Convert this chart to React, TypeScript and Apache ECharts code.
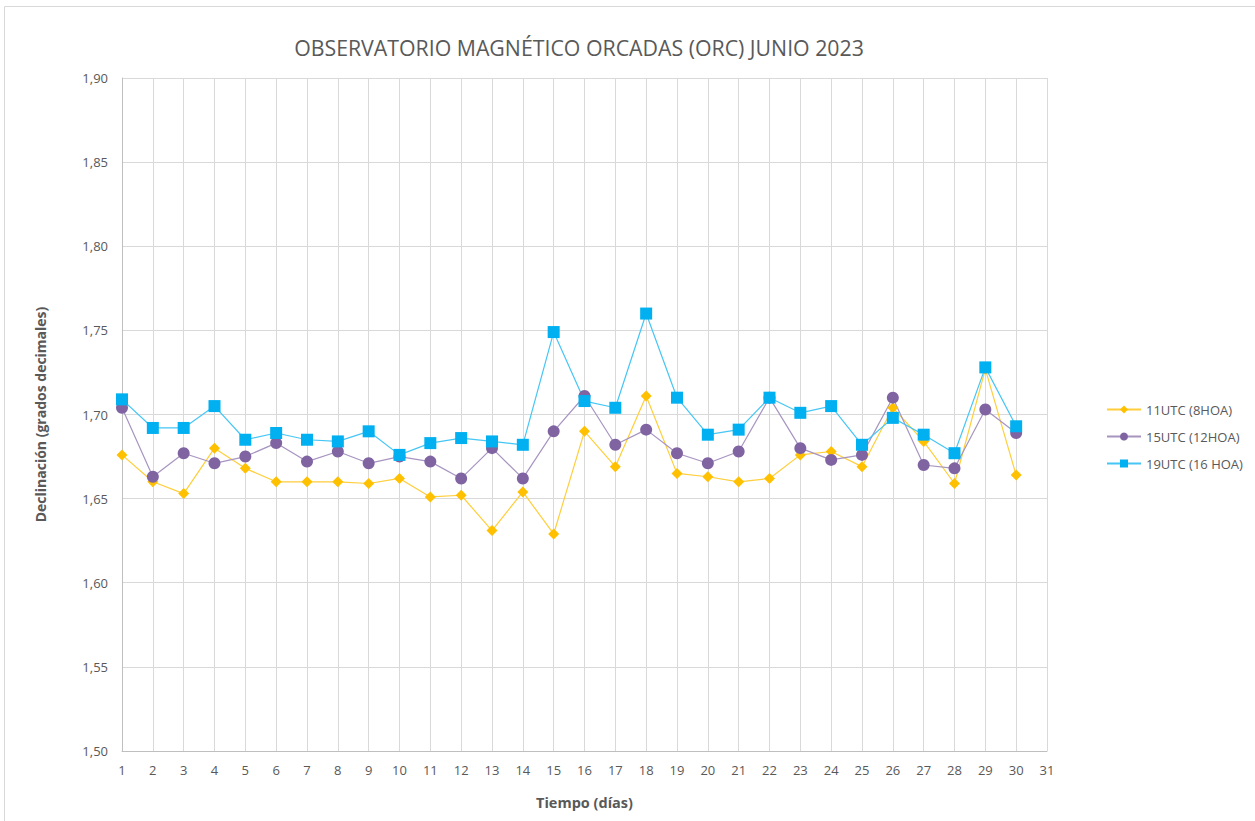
import React, { useEffect, useRef } from "react";
import * as echarts from "echarts";

const days = [1,2,3,4,5,6,7,8,9,10,11,12,13,14,15,16,17,18,19,20,21,22,23,24,25,26,27,28,29,30];
const utc11 = [1.676,1.660,1.653,1.680,1.668,1.660,1.660,1.660,1.659,1.662,1.651,1.652,1.631,1.654,1.629,1.690,1.669,1.711,1.665,1.663,1.660,1.662,1.676,1.678,1.669,1.704,1.684,1.659,1.727,1.664];
const utc15 = [1.704,1.663,1.677,1.671,1.675,1.683,1.672,1.678,1.671,1.675,1.672,1.662,1.680,1.662,1.690,1.711,1.682,1.691,1.677,1.671,1.678,1.710,1.680,1.673,1.676,1.710,1.670,1.668,1.703,1.689];
const utc19 = [1.709,1.692,1.692,1.705,1.685,1.689,1.685,1.684,1.690,1.676,1.683,1.686,1.684,1.682,1.749,1.708,1.704,1.760,1.710,1.688,1.691,1.710,1.701,1.705,1.682,1.698,1.688,1.677,1.728,1.693];
const seriesNames = ["11UTC (8HOA)", "15UTC (12HOA)", "19UTC (16 HOA)"];
const titleText = "OBSERVATORIO MAGNÉTICO ORCADAS (ORC) JUNIO 2023";

const FONT = "'Open Sans', sans-serif";

export default function App() {
  const ref = useRef<HTMLDivElement>(null);
  useEffect(() => {
    if (!ref.current) return;
    const chart = echarts.init(ref.current, undefined, { renderer: "svg" });
    const mk = (vals: number[]) => days.map((d, i) => [d, vals[i]]);
    chart.setOption({
      animation: false,
      backgroundColor: "#ffffff",
      title: {
        text: titleText,
        left: 574,
        textAlign: "center",
        top: 32,
        textStyle: { fontFamily: FONT, fontSize: 21.3, fontWeight: "normal", color: "#595959" },
      },
      graphic: [
        {
          type: "rect",
          shape: { x: 4.5, y: 6.5, width: 1400, height: 1000 },
          style: { fill: "none", stroke: "#d9d9d9", lineWidth: 1 },
          silent: true,
        },
      ],
      legend: {
        orient: "vertical",
        left: 1101,
        top: 398,
        itemGap: 14,
        itemWidth: 34,
        itemHeight: 10,
        textStyle: { fontFamily: FONT, fontSize: 13, color: "#595959" },
        data: seriesNames,
      },
      grid: { left: 122, right: 208, top: 78, bottom: 70, containLabel: false },
      xAxis: {
        type: "value",
        min: 1,
        max: 31,
        interval: 1,
        name: "Tiempo (días)",
        nameLocation: "middle",
        nameGap: 44,
        nameTextStyle: { fontFamily: FONT, fontSize: 14.5, fontWeight: "bold", color: "#595959" },
        axisLine: { show: true, lineStyle: { color: "#bfbfbf" } },
        axisTick: { show: false },
        axisLabel: { fontFamily: FONT, fontSize: 13, color: "#595959", margin: 12 },
        splitLine: { show: true, lineStyle: { color: "#d9d9d9" } },
      },
      yAxis: {
        type: "value",
        min: 1.5,
        max: 1.9,
        interval: 0.05,
        name: "Declinación (grados decimales)",
        nameLocation: "middle",
        nameGap: 75,
        nameTextStyle: { fontFamily: FONT, fontSize: 14, fontWeight: "bold", color: "#595959" },
        axisLine: { show: true, lineStyle: { color: "#bfbfbf" } },
        axisTick: { show: false },
        axisLabel: {
          fontFamily: FONT,
          fontSize: 13,
          color: "#595959",
          margin: 14,
          formatter: (v: number) => v.toFixed(2).replace(".", ","),
        },
        splitLine: { show: true, lineStyle: { color: "#d9d9d9" } },
      },
      series: [
        {
          name: seriesNames[0],
          type: "line",
          data: mk(utc11),
          symbol: "diamond",
          symbolSize: 11,
          itemStyle: { color: "#FFC000" },
          lineStyle: { color: "#FFCE3A", width: 1.2 },
        },
        {
          name: seriesNames[1],
          type: "line",
          data: mk(utc15),
          symbol: "circle",
          symbolSize: 12,
          itemStyle: { color: "#8064A2" },
          lineStyle: { color: "#A794C0", width: 1.2 },
        },
        {
          name: seriesNames[2],
          type: "line",
          data: mk(utc19),
          symbol: "rect",
          symbolSize: 12,
          itemStyle: { color: "#00B0F0" },
          lineStyle: { color: "#45C6F5", width: 1.2 },
        },
      ],
    });
    return () => chart.dispose();
  }, []);
  return (
    <div
      ref={ref}
      style={{ position: "absolute", left: 0, top: 0, width: 1255, height: 821 }}
    />
  );
}
